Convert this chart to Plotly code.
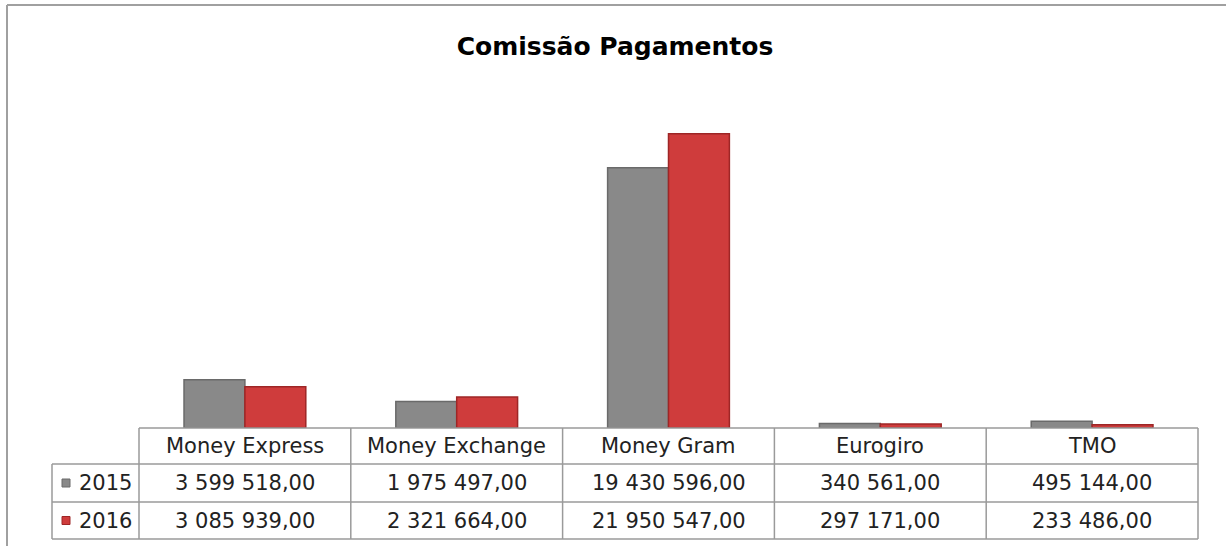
import plotly.graph_objects as go

W, H = 1226, 546

categories = ["Money Express", "Money Exchange", "Money Gram", "Eurogiro", "TMO"]
years = ["2015", "2016"]
values_2015 = [3599518.00, 1975497.00, 19430596.00, 340561.00, 495144.00]
values_2016 = [3085939.00, 2321664.00, 21950547.00, 297171.00, 233486.00]

series = [
    (years[0], values_2015, "#898989", "#6a6a6a"),
    (years[1], values_2016, "#cf3c3c", "#9e2626"),
]


def fmt(value):
    # 3 599 518,00 style
    whole, dec = f"{value:.2f}".split(".")
    groups = []
    while whole:
        groups.insert(0, whole[-3:])
        whole = whole[:-3]
    return " ".join(groups) + "," + dec


def px(x):
    return x / W


def py(y):
    return 1 - y / H


# layout in pixels
plot_left, plot_right = 139, 1198
baseline, plot_top = 428, 93
legend_left = 52
row_lines = [428, 464, 502, 539]
line_color = "#9a9a9a"
font = "DejaVu Sans"
txt = dict(family=font, size=21, color="#222222")

fig = go.Figure()
for name, vals, color, edge in series:
    fig.add_trace(
        go.Bar(
            x=categories,
            y=vals,
            name=name,
            marker=dict(color=color, line=dict(color=edge, width=1.5)),
            hovertemplate="%{x}<br>" + name + ": %{y:,.2f}<extra></extra>",
        )
    )

shapes = []
annotations = []

# outer frame
shapes.append(dict(type="line", xref="paper", yref="paper", x0=px(7), x1=px(7),
                   y0=py(5), y1=py(H), line=dict(color="#a0a0a0", width=2)))
shapes.append(dict(type="line", xref="paper", yref="paper", x0=px(7), x1=1,
                   y0=py(5), y1=py(5), line=dict(color="#a0a0a0", width=2)))

# data table
col_w = (plot_right - plot_left) / len(categories)
col_edges = [plot_left + i * col_w for i in range(len(categories) + 1)]


def hline(y, x0, x1):
    shapes.append(dict(type="line", xref="paper", yref="paper", x0=px(x0), x1=px(x1),
                       y0=py(y), y1=py(y), line=dict(color=line_color, width=1.5)))


def vline(x, y0, y1):
    shapes.append(dict(type="line", xref="paper", yref="paper", x0=px(x), x1=px(x),
                       y0=py(y0), y1=py(y1), line=dict(color=line_color, width=1.5)))


def label(text, x, y, anchor="center"):
    annotations.append(dict(text=text, xref="paper", yref="paper", x=px(x), y=py(y),
                            xanchor=anchor, yanchor="middle", showarrow=False, font=txt))


hline(row_lines[0], plot_left, plot_right)
for y in row_lines[1:]:
    hline(y, legend_left, plot_right)
vline(legend_left, row_lines[1], row_lines[-1])
for x in col_edges:
    vline(x, row_lines[0], row_lines[-1])

# header
for i, cat in enumerate(categories):
    label(cat, (col_edges[i] + col_edges[i + 1]) / 2, (row_lines[0] + row_lines[1]) / 2)

# value rows
for r, (name, vals, color, edge) in enumerate(series):
    yc = (row_lines[r + 1] + row_lines[r + 2]) / 2
    shapes.append(dict(type="rect", xref="paper", yref="paper",
                       x0=px(62), x1=px(70), y0=py(yc - 4), y1=py(yc + 4),
                       fillcolor=color, line=dict(color=edge, width=1)))
    label(name, 77, yc, anchor="left")
    for i, v in enumerate(vals):
        label(fmt(v), (col_edges[i] + col_edges[i + 1]) / 2, yc)

fig.update_layout(
    title=dict(text="<b>Comissão Pagamentos</b>", x=px(615), y=py(46),
               xanchor="center", yanchor="middle",
               font=dict(family=font, size=25, color="#000000")),
    width=W,
    height=H,
    margin=dict(l=0, r=0, t=0, b=0),
    paper_bgcolor="white",
    plot_bgcolor="white",
    showlegend=False,
    barmode="group",
    bargap=0.425,
    bargroupgap=0,
    xaxis=dict(domain=[px(plot_left), px(plot_right)], visible=False),
    yaxis=dict(domain=[py(baseline), py(plot_top)], range=[0, 25000000], visible=False),
    shapes=shapes,
    annotations=annotations,
)

fig.write_html("out.html", config={"displayModeBar": False},
               post_script="document.body.style.margin='0';")
